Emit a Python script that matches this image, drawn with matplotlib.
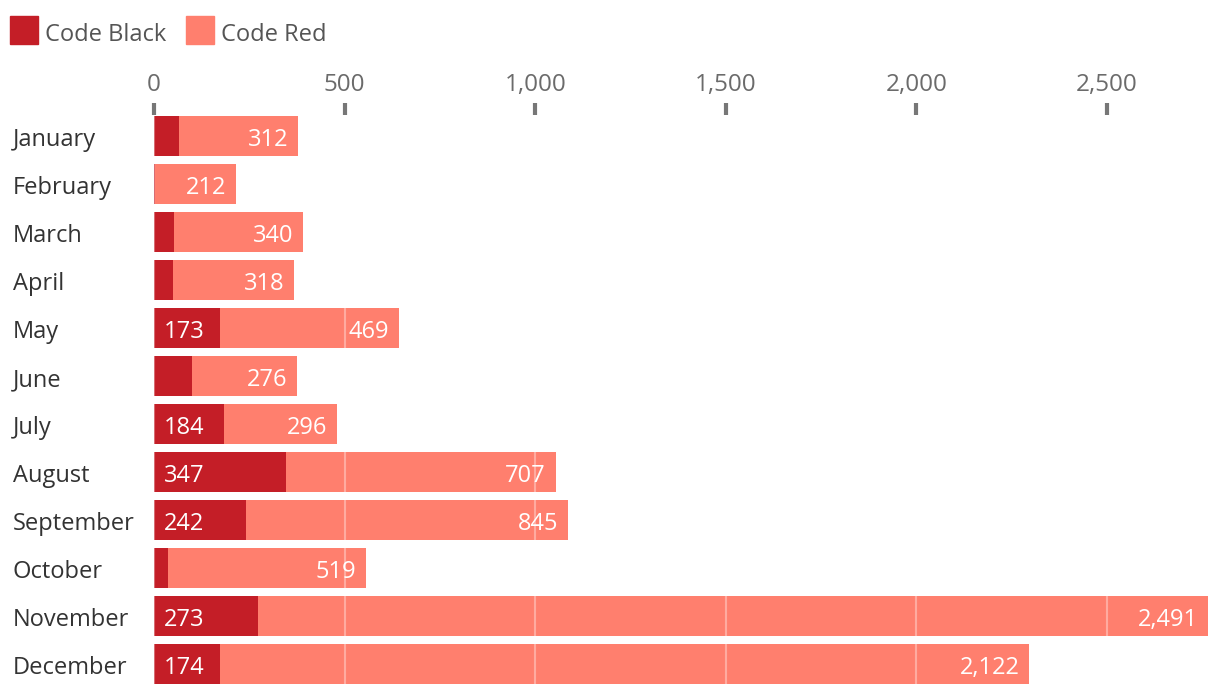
import matplotlib
matplotlib.use("Agg")
import matplotlib.pyplot as plt
from matplotlib.patches import Rectangle
from matplotlib.transforms import blended_transform_factory

months = ["January", "February", "March", "April", "May", "June", "July",
          "August", "September", "October", "November", "December"]
code_black = [65, 2, 52, 49, 173, 100, 184, 347, 242, 36, 273, 174]
code_red = [312, 212, 340, 318, 469, 276, 296, 707, 845, 519, 2491, 2122]
xticks = [0, 500, 1000, 1500, 2000, 2500]

C_BLACK = "#C41E27"
C_RED = "#FF7F6E"
FONT = "Open Sans"
FS = 17

plt.rcParams["font.family"] = [FONT, "DejaVu Sans"]

W, H = 1220, 696
fig = plt.figure(figsize=(W / 100, H / 100), dpi=100)
ax = fig.add_axes([154 / W, 8 / H, (1220 - 154) / W, (688 - 115) / H])

y = list(range(len(months)))
ax.barh(y, code_black, height=0.83, color=C_BLACK, zorder=2)
ax.barh(y, code_red, left=code_black, height=0.83, color=C_RED, zorder=2)

ax.set_xlim(0, 1066 / 0.3812)
ax.set_ylim(11.5, -0.4375)

for xv in xticks:
    ax.axvline(xv, color="white", alpha=0.35, lw=1.5, zorder=3)

ax.xaxis.tick_top()
ax.set_xticks(xticks)
ax.set_xticklabels([f"{v:,}" for v in xticks], fontsize=17.5, color="#6b6b6b")
ax.tick_params(axis="x", length=9, width=3, color="#777777", pad=4)
ax.set_yticks([])
for s in ax.spines.values():
    s.set_visible(False)

trans = blended_transform_factory(fig.transFigure, ax.transData)
for i, m in enumerate(months):
    ax.text(13 / W, i + 0.03, m, transform=trans, ha="left", va="center_baseline",
            fontsize=FS, color="#333333")
    b = code_black[i]
    r = code_red[i]
    if b >= 150:
        ax.annotate(f"{b:,}", (0, i + 0.03), xytext=(7, 0), textcoords="offset points",
                    ha="left", va="center_baseline", fontsize=FS, color="white", zorder=4)
    ax.annotate(f"{r:,}", (b + r, i + 0.03), xytext=(-7, 0), textcoords="offset points",
                ha="right", va="center_baseline", fontsize=FS, color="white", zorder=4)

# legend
fig.add_artist(Rectangle((10 / W, 1 - 44 / H), 28 / W, 28 / H,
                         transform=fig.transFigure, color=C_BLACK))
fig.text(45 / W, 1 - 32 / H, "Code Black", ha="left", va="center_baseline",
         fontsize=FS, color="#555555")
fig.add_artist(Rectangle((186 / W, 1 - 44 / H), 28 / W, 28 / H,
                         transform=fig.transFigure, color=C_RED))
fig.text(221 / W, 1 - 32 / H, "Code Red", ha="left", va="center_baseline",
         fontsize=FS, color="#555555")

fig.savefig("out.png", dpi=100)
